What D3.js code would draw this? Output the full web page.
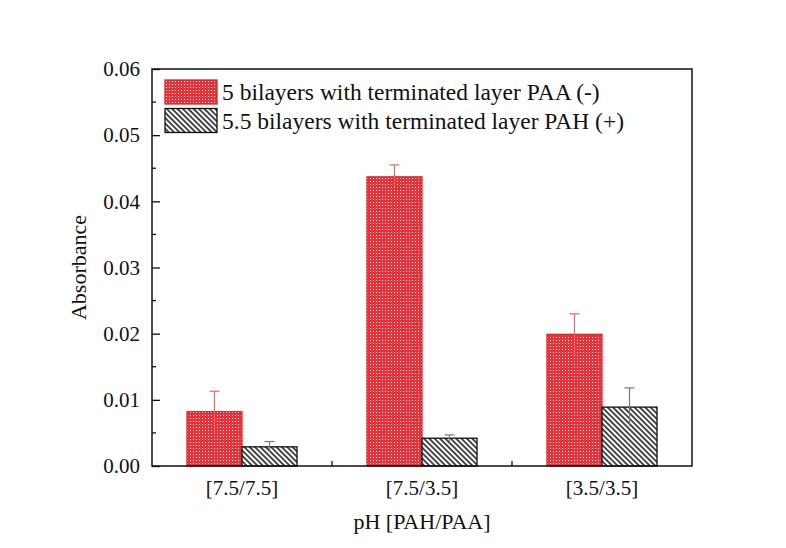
<!DOCTYPE html>
<html>
<head>
<meta charset="utf-8">
<script src="https://cdn.jsdelivr.net/npm/d3@7"></script>
<style>
  body { margin: 0; background: #fff; }
  text { font-family: "Liberation Serif", "Times New Roman", serif; fill: #111; }
</style>
</head>
<body>
<svg id="chart" width="786" height="548"></svg>
<script>
// data
var categories = ['[7.5/7.5]', '[7.5/3.5]', '[3.5/3.5]'];
var seriesNames = ['5 bilayers with terminated layer PAA (-)', '5.5 bilayers with terminated layer PAH (+)'];
var paaValues = [0.0082, 0.0437, 0.0199];
var paaErrors = [0.0031, 0.0018, 0.0031];
var pahValues = [0.0029, 0.0042, 0.0089];
var pahErrors = [0.0008, 0.0005, 0.0029];
var yTicks = [0, 0.01, 0.02, 0.03, 0.04, 0.05, 0.06];

var svg = d3.select('#chart');
var pLeft = 152, pRight = 692, pTop = 69, pBottom = 466;

var x0 = d3.scaleBand().domain(categories).range([pLeft, pRight]).paddingInner(0).paddingOuter(0);
var x1 = d3.scaleBand().domain([0, 1]).range([0, x0.bandwidth()]).paddingInner(0).paddingOuter(0.636);
var y = d3.scaleLinear().domain([0, 0.06]).range([pBottom, pTop]);

// patterns
var defs = svg.append('defs');
var dots = defs.append('pattern')
  .attr('id', 'redDots')
  .attr('patternUnits', 'userSpaceOnUse')
  .attr('width', 3).attr('height', 3);
dots.append('rect').attr('width', 3).attr('height', 3).attr('fill', '#ea3038');
dots.append('rect').attr('x', 1).attr('y', 1).attr('width', 1).attr('height', 1).attr('fill', '#fff');

var hatch = defs.append('pattern')
  .attr('id', 'hatch')
  .attr('patternUnits', 'userSpaceOnUse')
  .attr('width', 3.8).attr('height', 3.8)
  .attr('patternTransform', 'rotate(-45)');
hatch.append('rect').attr('width', 3.8).attr('height', 3.8).attr('fill', '#fff');
hatch.append('line')
  .attr('x1', 1).attr('y1', -1).attr('x2', 1).attr('y2', 5)
  .attr('stroke', '#111').attr('stroke-width', 1.5);

var fills = ['url(#redDots)', 'url(#hatch)'];
var strokes = ['#e0242a', '#111'];
var errColors = ['#e06a6a', '#777'];

var rows = [];
categories.forEach(function(c, i) {
  rows.push({cat: c, s: 0, v: paaValues[i], e: paaErrors[i]});
  rows.push({cat: c, s: 1, v: pahValues[i], e: pahErrors[i]});
});

// bars
svg.append('g').selectAll('rect')
  .data(rows)
  .enter().append('rect')
  .attr('x', function(d) { return x0(d.cat) + x1(d.s); })
  .attr('y', function(d) { return y(d.v); })
  .attr('width', x1.bandwidth())
  .attr('height', function(d) { return y(0) - y(d.v); })
  .attr('fill', function(d) { return fills[d.s]; })
  .attr('stroke', function(d) { return strokes[d.s]; })
  .attr('stroke-width', 1.3);

// error bars
var eb = svg.append('g').selectAll('g')
  .data(rows)
  .enter().append('g')
  .attr('stroke', function(d) { return errColors[d.s]; })
  .attr('stroke-width', 1.2);
eb.append('line')
  .attr('x1', function(d) { return x0(d.cat) + x1(d.s) + x1.bandwidth() / 2; })
  .attr('x2', function(d) { return x0(d.cat) + x1(d.s) + x1.bandwidth() / 2; })
  .attr('y1', function(d) { return y(d.v + d.e); })
  .attr('y2', function(d) { return y(d.v - d.e); });
eb.append('line')
  .attr('x1', function(d) { return x0(d.cat) + x1(d.s) + x1.bandwidth() / 2 - 5; })
  .attr('x2', function(d) { return x0(d.cat) + x1(d.s) + x1.bandwidth() / 2 + 5; })
  .attr('y1', function(d) { return y(d.v + d.e); })
  .attr('y2', function(d) { return y(d.v + d.e); });

// frame
svg.append('rect')
  .attr('x', pLeft).attr('y', pTop)
  .attr('width', pRight - pLeft).attr('height', pBottom - pTop)
  .attr('fill', 'none').attr('stroke', '#111').attr('stroke-width', 1.5);

// y axis, ticks inward
var yAxis = d3.axisLeft(y).tickValues(yTicks).tickSizeInner(-8).tickSizeOuter(0).tickPadding(12)
  .tickFormat(d3.format('.2f'));
var yg = svg.append('g').attr('transform', 'translate(' + pLeft + ',0)').call(yAxis);
yg.select('.domain').remove();
yg.selectAll('line').attr('stroke', '#111').attr('stroke-width', 1.3);
yg.selectAll('text').attr('font-size', 21).attr('font-family', '"Liberation Serif", serif').attr('fill', '#111');

var yMinor = d3.range(0.005, 0.06, 0.01);
svg.append('g').selectAll('line')
  .data(yMinor)
  .enter().append('line')
  .attr('x1', pLeft).attr('x2', pLeft + 4)
  .attr('y1', function(d) { return y(d); }).attr('y2', function(d) { return y(d); })
  .attr('stroke', '#111').attr('stroke-width', 1.3);

// x axis labels and boundary ticks
var xAxis = d3.axisBottom(x0).tickSize(0).tickPadding(14);
var xg = svg.append('g').attr('transform', 'translate(0,' + pBottom + ')').call(xAxis);
xg.select('.domain').remove();
xg.selectAll('text').attr('font-size', 21).attr('font-family', '"Liberation Serif", serif').attr('fill', '#111');

svg.append('g').selectAll('line')
  .data(categories.slice(1))
  .enter().append('line')
  .attr('x1', function(d) { return x0(d); }).attr('x2', function(d) { return x0(d); })
  .attr('y1', pBottom).attr('y2', pBottom - 5)
  .attr('stroke', '#111').attr('stroke-width', 1.3);

// axis titles
svg.append('text')
  .attr('x', (pLeft + pRight) / 2).attr('y', 529)
  .attr('text-anchor', 'middle').attr('font-size', 22)
  .text('pH [PAH/PAA]');
svg.append('text')
  .attr('transform', 'translate(86,' + ((pTop + pBottom) / 2) + ') rotate(-90)')
  .attr('text-anchor', 'middle').attr('font-size', 22)
  .text('Absorbance');

// legend
var lg = svg.append('g').selectAll('g')
  .data(seriesNames)
  .enter().append('g')
  .attr('transform', function(d, i) { return 'translate(165,' + (80 + i * 28.5) + ')'; });
lg.append('rect')
  .attr('width', 52).attr('height', 24)
  .attr('fill', function(d, i) { return fills[i]; })
  .attr('stroke', function(d, i) { return strokes[i]; })
  .attr('stroke-width', 1.3);
lg.append('text')
  .attr('x', 57).attr('y', 12).attr('dy', '0.35em')
  .attr('font-size', 23.5)
  .text(function(d) { return d; });
</script>
</body>
</html>
